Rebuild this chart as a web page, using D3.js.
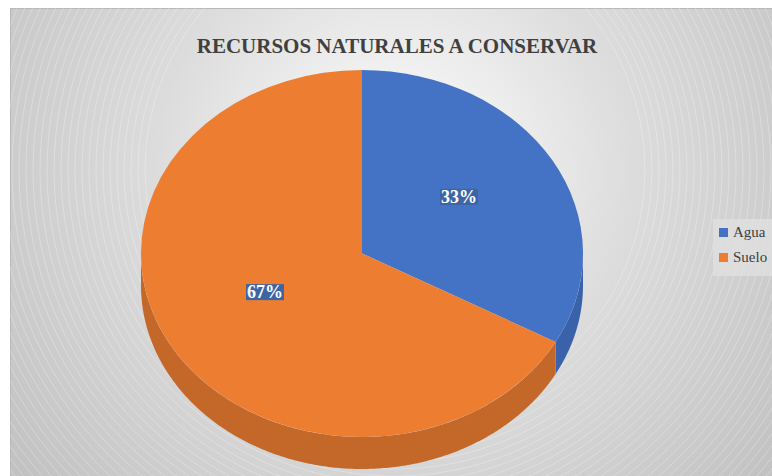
<!DOCTYPE html>
<html>
<head>
<meta charset="utf-8">
<script src="https://cdn.jsdelivr.net/npm/d3@7.9.0/dist/d3.min.js"></script>
<style>
  body { margin: 0; background: #fff; }
  svg { display: block; }
</style>
</head>
<body>
<svg id="chart" width="772" height="476"></svg>
<script>
const categories = ['Agua', 'Suelo'];
const values = [33, 67];
const labels = ['33%', '67%'];
const colors = ['#4472c4', '#ed7d31'];
const sideColors = ['#3a62aa', '#c4682a'];

const width = 772, height = 476;
const serif = '"Liberation Serif", "DejaVu Serif", serif';
const svg = d3.select('#chart');

// background with radial gradient
const defs = svg.append('defs');
const grad = defs.append('radialGradient')
    .attr('id', 'bg')
    .attr('gradientUnits', 'userSpaceOnUse')
    .attr('cx', 395).attr('cy', 170).attr('r', 480);
grad.append('stop').attr('offset', '0%').attr('stop-color', '#ffffff');
grad.append('stop').attr('offset', '50%').attr('stop-color', '#dcdcdc');
grad.append('stop').attr('offset', '100%').attr('stop-color', '#c2c2c2');

defs.append('clipPath').attr('id', 'frameClip')
    .append('rect').attr('x', 10).attr('y', 8).attr('width', 770).attr('height', 470);

svg.append('rect')
    .attr('x', 10.5).attr('y', 8.5)
    .attr('width', 770).attr('height', 470)
    .attr('fill', 'url(#bg)')
    .attr('stroke', '#b8b8b8');

// faint concentric lines
const rings = svg.append('g').attr('clip-path', 'url(#frameClip)');
d3.range(250, 560, 7).forEach(r => {
    rings.append('circle')
        .attr('cx', 395).attr('cy', 170).attr('r', r)
        .attr('fill', 'none')
        .attr('stroke', '#ffffff')
        .attr('stroke-opacity', 0.45)
        .attr('stroke-width', 0.6);
});

// title
svg.append('text')
    .attr('x', 397).attr('y', 53)
    .attr('text-anchor', 'middle')
    .style('font-family', serif)
    .style('font-weight', 'bold')
    .style('font-size', '21px')
    .attr('fill', '#404040')
    .text('RECURSOS NATURALES A CONSERVAR');

// 3D pie
const cx = 362, cy = 253.5, rx = 221, ry = 183.5, depth = 32;
const pie = d3.pie().sort(null).value(d => d);
const arcsData = pie(values);

const px = a => cx + rx * Math.sin(a);
const py = a => cy - ry * Math.cos(a);

const g = svg.append('g');

// side walls for the front half of the pie
arcsData.forEach((d, i) => {
    const a0 = Math.max(d.startAngle, Math.PI / 2);
    const a1 = Math.min(d.endAngle, 3 * Math.PI / 2);
    if (a1 <= a0) return;
    const steps = d3.range(a0, a1, 0.01).concat([a1]);
    const top = steps.map(a => [px(a), py(a)]);
    const bottom = steps.slice().reverse().map(a => [px(a), py(a) + depth]);
    g.append('path')
        .attr('d', d3.line()(top.concat(bottom)) + 'Z')
        .attr('fill', sideColors[i]);
});

// top faces
const arc = d3.arc().innerRadius(0).outerRadius(rx);
g.selectAll('path.top')
    .data(arcsData)
    .join('path')
    .attr('class', 'top')
    .attr('transform', `translate(${cx},${cy}) scale(1,${ry / rx})`)
    .attr('d', arc)
    .attr('fill', (d, i) => colors[i]);

// data labels
const labelArc = d3.arc().innerRadius(rx * 0.51).outerRadius(rx * 0.51);
arcsData.forEach((d, i) => {
    const c = labelArc.centroid(d);
    const lx = cx + c[0];
    const ly = cy + c[1] * ry / rx - 9;
    const lg = svg.append('g');
    const t = lg.append('text')
        .attr('x', lx).attr('y', ly + 6)
        .attr('text-anchor', 'middle')
        .style('font-family', serif)
        .style('font-weight', 'bold')
        .style('font-size', '18px')
        .attr('fill', '#ffffff')
        .text(labels[i]);
    const b = t.node().getBBox();
    lg.insert('rect', 'text')
        .attr('x', b.x - 1).attr('y', b.y + 2)
        .attr('width', b.width + 2).attr('height', b.height - 4)
        .attr('fill', '#3d65a3');
});

// legend
const legend = svg.append('g');
legend.append('rect')
    .attr('x', 713).attr('y', 219)
    .attr('width', 60).attr('height', 57)
    .attr('fill', '#e0e0e0').attr('fill-opacity', 0.8);
categories.forEach((c, i) => {
    const y = 228 + i * 25;
    legend.append('rect')
        .attr('x', 719).attr('y', y)
        .attr('width', 9).attr('height', 9)
        .attr('fill', colors[i]);
    legend.append('text')
        .attr('x', 733).attr('y', y + 9)
        .style('font-family', serif)
        .style('font-size', '15px')
        .attr('fill', '#404040')
        .text(c);
});
</script>
</body>
</html>
